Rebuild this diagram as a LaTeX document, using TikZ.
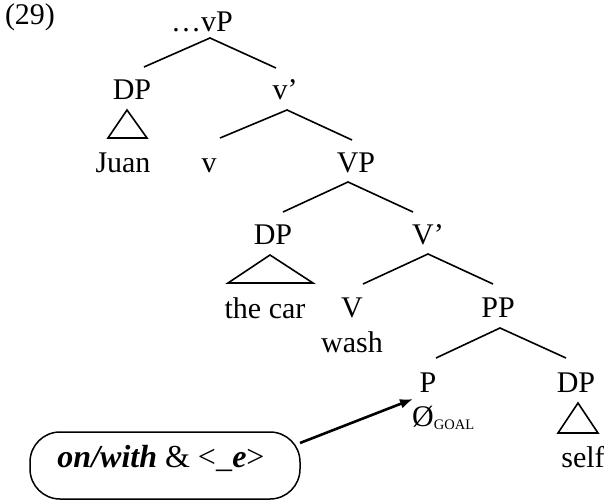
\documentclass[tikz,border=0pt]{standalone}
\usepackage{fontspec}
\setmainfont{Liberation Serif}
\usetikzlibrary{arrows.meta}
\begin{document}
\begin{tikzpicture}[x=1pt,y=-1pt,
  lbl/.style={inner sep=0pt,anchor=base,font=\fontsize{30}{33}\selectfont},
  branch/.style={line width=1.6pt},
  tri/.style={line width=1.6pt,line join=miter},
  arr/.style={line width=2.6pt,-{Latex[length=13pt,width=10pt]}},
  bubble/.style={draw,line width=1.5pt,rounded corners=30pt,minimum width=270pt,minimum height=67pt,inner sep=0pt}]
\useasboundingbox (0,0) rectangle (604,502);
% labels
\node[lbl] (ex) at (30,25) {(29)};
\node[lbl] (vP) at (202,32) {…vP};
\node[lbl] (DP1) at (132,100) {DP};
\node[lbl] (vbar) at (285,100) {v’};
\node[lbl] (Juan) at (123,173) {Juan};
\node[lbl] (v) at (209,173) {v};
\node[lbl] (VP) at (356,173) {VP};
\node[lbl] (DP2) at (273,245) {DP};
\node[lbl] (Vbar) at (428,245) {V’};
\node[lbl] (car) at (265,318) {the car};
\node[lbl] (V) at (352,317) {V};
\node[lbl] (PP) at (498,317) {PP};
\node[lbl] (wash) at (352,352) {wash};
\node[lbl] (P) at (428,392) {P};
\node[lbl] (DP3) at (576,392) {DP};
\node[lbl,anchor=base west] (goal) at (412,426) {Ø\raisebox{-3pt}{\fontsize{14.5}{15}\selectfont GOAL}};
\node[lbl] (self) at (583,467) {self};
\node[bubble] (box) at (165,465.5) {};
\node[lbl,font=\fontsize{32}{34}\selectfont] (boxtxt) at (161,467) {\textbf{\textit{on/with}} \& <\_\textbf{\textit{e}}>};
% branch points
\coordinate (a1) at (210,38);  \coordinate (a1l) at (144,67);  \coordinate (a1r) at (276,68);
\coordinate (a2) at (287,110); \coordinate (a2l) at (220,138); \coordinate (a2r) at (352,140);
\coordinate (a3) at (348,182); \coordinate (a3l) at (283,212); \coordinate (a3r) at (413,212);
\coordinate (a4) at (428,254); \coordinate (a4l) at (363,284); \coordinate (a4r) at (493,284);
\coordinate (a5) at (500,328); \coordinate (a5l) at (436,358); \coordinate (a5r) at (566,358);
\draw[branch] (a1l) -- (a1) -- (a1r);
\draw[branch] (a2l) -- (a2) -- (a2r);
\draw[branch] (a3l) -- (a3) -- (a3r);
\draw[branch] (a4l) -- (a4) -- (a4r);
\draw[branch] (a5l) -- (a5) -- (a5r);
% triangles
\coordinate (t1) at (127,110); \coordinate (t1l) at (108,138); \coordinate (t1r) at (147,138);
\coordinate (t2) at (270,255); \coordinate (t2l) at (228,283); \coordinate (t2r) at (313,283);
\coordinate (t3) at (578,403); \coordinate (t3l) at (558,433); \coordinate (t3r) at (598,433);
\draw[tri] (t1) -- (t1l) -- (t1r) -- cycle;
\draw[tri] (t2) -- (t2l) -- (t2r) -- cycle;
\draw[tri] (t3) -- (t3l) -- (t3r) -- cycle;
% arrow
\coordinate (tail) at (300,443);
\coordinate (tip) at (413,399);
\draw[arr] (tail) -- (tip);
\end{tikzpicture}
\end{document}
